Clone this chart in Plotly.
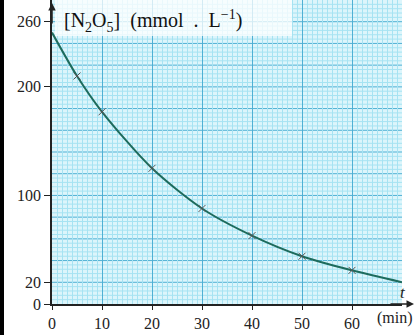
import plotly.graph_objects as go

# data
t_min = [0, 5, 10, 20, 30, 40, 50, 60, 70]
conc = [250, 210, 177, 125, 88, 63, 44, 31, 20]
sample_t = [5, 10, 20, 30, 40, 50, 60]
sample_c = [210, 177, 125, 88, 63, 44, 31]
x_ticks = [0, 10, 20, 30, 40, 50, 60]
y_ticks = [0, 20, 100, 200, 260]

W, H = 415, 335
ML, MR, MT, MB = 52, 13, 0, 31
PW, PH = W - ML - MR, H - MT - MB

serif = "Liberation Serif"

fig = go.Figure()
fig.add_trace(go.Scatter(x=t_min, y=conc, mode="lines",
                         line=dict(color="#1d6b5c", width=2, shape="spline", smoothing=0.8),
                         hoverinfo="skip", showlegend=False))
fig.add_trace(go.Scatter(x=sample_t, y=sample_c, mode="markers",
                         marker=dict(symbol="x-thin", size=7, line=dict(color="#555555", width=1)),
                         showlegend=False))

fig.update_layout(
    width=W, height=H,
    margin=dict(l=ML, r=MR, t=MT, b=MB),
    paper_bgcolor="white",
    plot_bgcolor="#dcf5fb",
    font=dict(family=serif, size=16, color="#222222"),
    xaxis=dict(range=[0, 70], tickvals=x_ticks, ticks="outside", ticklen=4, tickcolor="#222",
               showline=True, linecolor="#222", linewidth=1.5,
               showgrid=True, gridcolor="#4fb0d4", gridwidth=1, dtick=10, tick0=0,
               minor=dict(dtick=1, showgrid=True, gridcolor="#a6e3f2", gridwidth=1),
               zeroline=False, tickfont=dict(family=serif, size=16)),
    yaxis=dict(range=[0, 280], tickvals=y_ticks, ticks="outside", ticklen=6, tickcolor="#222",
               showline=True, linecolor="#222", linewidth=1.5,
               showgrid=False, zeroline=False, tickfont=dict(family=serif, size=16)),
)

# horizontal grid lines (graph paper), major every 20, minor every 4
shapes = []
for v in range(4, 280, 4):
    major = v % 20 == 0
    shapes.append(dict(type="line", xref="x", yref="y", x0=0, x1=70, y0=v, y1=v, layer="below",
                       line=dict(color="#4fb0d4" if major else "#a6e3f2", width=1)))
# whitish band behind the axis title
shapes.append(dict(type="rect", xref="paper", yref="paper", x0=3 / PW, x1=240 / PW,
                   y0=(PH - 36) / PH, y1=1, fillcolor="rgba(255,255,255,0.75)", line=dict(width=0),
                   layer="above"))
# left black frame stripe
shapes.append(dict(type="rect", xref="paper", yref="paper", x0=-ML / PW, x1=(-ML + 4) / PW,
                   y0=-MB / PH, y1=1, fillcolor="black", line=dict(width=0), layer="above"))
fig.update_layout(shapes=shapes)

fig.add_annotation(xref="paper", yref="y", x=(PW + 12) / PW, y=0, ax=-25, ay=0, text="",
                   showarrow=True, arrowhead=2, arrowsize=1, arrowwidth=1.5, arrowcolor="#222")
fig.add_annotation(xref="x", yref="paper", x=0, y=(PH - 3) / PH, ax=0, ay=22, text="",
                   showarrow=True, arrowhead=2, arrowsize=1, arrowwidth=1.5, arrowcolor="#222")
fig.add_annotation(xref="paper", yref="y", x=(PW + 6) / PW, y=11, text="<i>t</i>", showarrow=False,
                   font=dict(family=serif, size=17, color="#222"))
fig.add_annotation(xref="paper", yref="paper", x=(PW + 13) / PW, y=-14 / PH, yanchor="middle",
                   text="(min)", showarrow=False, xanchor="right",
                   font=dict(family=serif, size=16, color="#222"))
fig.add_annotation(xref="paper", yref="paper", x=10 / PW, y=(PH - 21) / PH, xanchor="left", yanchor="middle",
                   text="[N<sub>2</sub>O<sub>5</sub>]  (mmol  .  L<sup>−1</sup>)", showarrow=False,
                   font=dict(family=serif, size=20, color="#111"))

fig.write_html("out.html", config={"displayModeBar": False},
               post_script="document.body.style.margin='0';")
